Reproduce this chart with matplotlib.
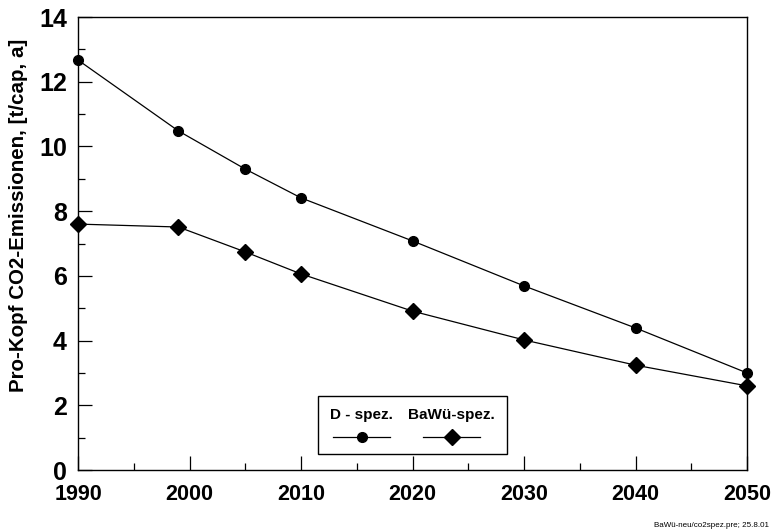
import matplotlib.pyplot as plt
from matplotlib.lines import Line2D
from matplotlib.patches import Rectangle
from matplotlib.ticker import MultipleLocator

plt.rcParams["font.family"] = ["Liberation Sans", "DejaVu Sans"]
plt.rcParams["font.weight"] = "bold"

years = [1990, 1999, 2005, 2010, 2020, 2030, 2040, 2050]
d_spez = [12.67, 10.48, 9.30, 8.41, 7.08, 5.69, 4.39, 3.00]
bawue_spez = [7.60, 7.51, 6.74, 6.06, 4.91, 4.02, 3.24, 2.60]

fig = plt.figure(figsize=(7.71, 5.30), dpi=100)
ax = fig.add_axes([0.1012, 0.1132, 0.8677, 0.8547])

ax.plot(years, d_spez, color="black", lw=0.9, marker="o", ms=7, clip_on=False, zorder=3)
ax.plot(years, bawue_spez, color="black", lw=0.9, marker="D", ms=8, clip_on=False, zorder=3)

ax.set_xlim(1990, 2050)
ax.set_ylim(0, 14)
ax.xaxis.set_major_locator(MultipleLocator(10))
ax.xaxis.set_minor_locator(MultipleLocator(5))
ax.yaxis.set_major_locator(MultipleLocator(2))
ax.yaxis.set_minor_locator(MultipleLocator(1))
ax.tick_params(which="major", direction="in", length=10, width=0.9)
ax.tick_params(which="minor", direction="in", length=5, width=0.9)
ax.tick_params(axis="x", which="major", labelsize=15.5, pad=10)
ax.tick_params(axis="y", which="major", labelsize=18, pad=8)
for lab in ax.get_xticklabels() + ax.get_yticklabels():
    lab.set_fontweight("bold")
for s in ax.spines.values():
    s.set_linewidth(1.0)

ax.set_ylabel("Pro-Kopf CO2-Emissionen, [t/cap, a]", fontsize=14.8, fontweight="bold")
ax.yaxis.set_label_coords(-0.075, 0.563)

# legend box with labels above the line samples
ax.add_patch(Rectangle((0.359, 0.035), 0.282, 0.128, transform=ax.transAxes,
                       fill=False, lw=1.0, ec="black", zorder=4))
entries = [("D - spez.", "o", 7, 0.381, 0.467), ("BaWü-spez.", "D", 8, 0.516, 0.601)]
for text, mk, ms, x0, x1 in entries:
    xc = (x0 + x1) / 2
    ax.text(xc, 0.121, text, transform=ax.transAxes, ha="center", va="center",
            fontsize=11, fontweight="bold")
    ax.add_line(Line2D([x0, x1], [0.073, 0.073], transform=ax.transAxes,
                       color="black", lw=0.9))
    ax.add_line(Line2D([xc], [0.073], transform=ax.transAxes, color="black",
                       marker=mk, ms=ms, lw=0))

fig.text(0.998, 0.002, "BaWü-neu/co2spez.pre; 25.8.01", ha="right", va="bottom",
         fontsize=5.8, fontweight="normal")

fig.savefig("out.png", dpi=100)
